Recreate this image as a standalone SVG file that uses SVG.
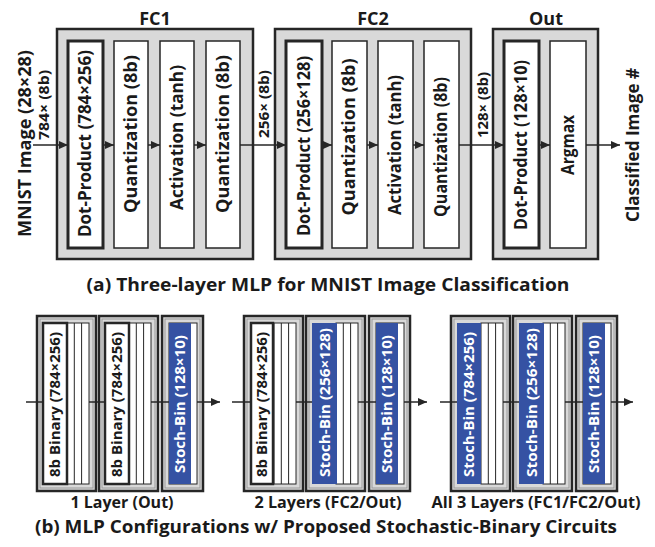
<svg xmlns="http://www.w3.org/2000/svg" width="655" height="547" viewBox="0 0 655 547">
<style>
text{font-family:"Open Sans","Noto Sans","Liberation Sans",sans-serif;font-weight:bold;fill:#1a1a1a}
.outer{fill:#d9d9d9;stroke:#262626;stroke-width:2.5}
.blk{fill:#fff;stroke:#262626;stroke-width:1.5}
.dp{fill:#fff;stroke:#262626;stroke-width:3}
.lbl{font-size:17px}
.sm{font-size:14px}
.ttl{font-size:18px}
.cap{font-size:18.5px}
.bo{fill:#d9d9d9;stroke:#262626;stroke-width:2.5}
.bi{fill:none;stroke:#9a9a9a;stroke-width:1}
.col{fill:#fff;stroke:#262626;stroke-width:1}
.wb{fill:#fff;stroke:#262626;stroke-width:2.5}
.blue{fill:#3552a3}
.bt{font-size:15px}
.bl{font-size:16px}
.wt{fill:#fff}
.cn{stroke:#262626;stroke-width:1.5;fill:none}
</style>
<defs>
<marker id="ah" markerWidth="9" markerHeight="8" refX="9" refY="4" orient="auto" markerUnits="userSpaceOnUse">
<path d="M0,0 L9,4 L0,8 Z" fill="#262626"/>
</marker>
</defs>

<!-- Part (a) -->
<text class="ttl" x="155" y="25" text-anchor="middle">FC1</text>
<text class="ttl" x="373" y="25" text-anchor="middle">FC2</text>
<text class="ttl" x="546" y="25" text-anchor="middle">Out</text>

<text class="ttl" transform="translate(31,143.5) rotate(-90)" text-anchor="middle" textLength="187" lengthAdjust="spacingAndGlyphs">MNIST Image (28×28)</text>
<text class="sm" transform="translate(49,105) rotate(-90)" text-anchor="middle" textLength="70" lengthAdjust="spacingAndGlyphs">784× (8b)</text>
<text class="sm" transform="translate(269,104) rotate(-90)" text-anchor="middle" textLength="68" lengthAdjust="spacingAndGlyphs">256× (8b)</text>
<text class="sm" transform="translate(488,105) rotate(-90)" text-anchor="middle" textLength="66" lengthAdjust="spacingAndGlyphs">128× (8b)</text>
<text class="ttl" transform="translate(639,145) rotate(-90)" text-anchor="middle" textLength="154" lengthAdjust="spacingAndGlyphs">Classified Image #</text>

<g id="fc1">
<rect class="outer" x="57" y="29" width="196" height="230"/>
<rect class="dp" x="68" y="41" width="35" height="207"/>
<rect class="blk" x="114" y="41" width="34" height="207"/>
<rect class="blk" x="160" y="41" width="34" height="207"/>
<rect class="blk" x="206" y="41" width="34" height="207"/>
<text class="lbl" transform="translate(85.5,143.5) rotate(-90)" dy=".35em" text-anchor="middle" textLength="187" lengthAdjust="spacingAndGlyphs">Dot-Product (784×256)</text>
<text class="lbl" transform="translate(131,134) rotate(-90)" dy=".35em" text-anchor="middle" textLength="158" lengthAdjust="spacingAndGlyphs">Quantization (8b)</text>
<text class="lbl" transform="translate(177,137.5) rotate(-90)" dy=".35em" text-anchor="middle" textLength="145" lengthAdjust="spacingAndGlyphs">Activation (tanh)</text>
<text class="lbl" transform="translate(223,134) rotate(-90)" dy=".35em" text-anchor="middle" textLength="158" lengthAdjust="spacingAndGlyphs">Quantization (8b)</text>
</g>

<g id="fc2">
<rect class="outer" x="275" y="29" width="196" height="230"/>
<rect class="dp" x="286" y="41" width="36" height="207"/>
<rect class="blk" x="332" y="41" width="35" height="207"/>
<rect class="blk" x="378" y="41" width="35" height="207"/>
<rect class="blk" x="424" y="41" width="35" height="207"/>
<text class="lbl" transform="translate(304,146) rotate(-90)" dy=".35em" text-anchor="middle" textLength="180" lengthAdjust="spacingAndGlyphs">Dot-Product (256×128)</text>
<text class="lbl" transform="translate(349.5,137) rotate(-90)" dy=".35em" text-anchor="middle" textLength="157" lengthAdjust="spacingAndGlyphs">Quantization (8b)</text>
<text class="lbl" transform="translate(395.5,145) rotate(-90)" dy=".35em" text-anchor="middle" textLength="140" lengthAdjust="spacingAndGlyphs">Activation (tanh)</text>
<text class="lbl" transform="translate(441.5,147) rotate(-90)" dy=".35em" text-anchor="middle" textLength="140" lengthAdjust="spacingAndGlyphs">Quantization (8b)</text>
</g>

<g id="out">
<rect class="outer" x="493" y="29" width="105" height="230"/>
<rect class="dp" x="504" y="41" width="35" height="207"/>
<rect class="blk" x="550" y="41" width="36" height="207"/>
<text class="lbl" transform="translate(521.5,145) rotate(-90)" dy=".35em" text-anchor="middle" textLength="170" lengthAdjust="spacingAndGlyphs">Dot-Product (128×10)</text>
<text class="lbl" transform="translate(568,145) rotate(-90)" dy=".35em" text-anchor="middle" textLength="60" lengthAdjust="spacingAndGlyphs">Argmax</text>
</g>

<g id="connectors-a">
<line class="cn" x1="33" y1="145" x2="68" y2="145" marker-end="url(#ah)"/>
<line class="cn" x1="103" y1="145" x2="114" y2="145" marker-end="url(#ah)"/>
<line class="cn" x1="148" y1="145" x2="160" y2="145" marker-end="url(#ah)"/>
<line class="cn" x1="194" y1="145" x2="206" y2="145" marker-end="url(#ah)"/>
<line class="cn" x1="240" y1="145" x2="286" y2="145" marker-end="url(#ah)"/>
<line class="cn" x1="322" y1="145" x2="332" y2="145" marker-end="url(#ah)"/>
<line class="cn" x1="367" y1="145" x2="378" y2="145" marker-end="url(#ah)"/>
<line class="cn" x1="413" y1="145" x2="424" y2="145" marker-end="url(#ah)"/>
<line class="cn" x1="459" y1="145" x2="504" y2="145" marker-end="url(#ah)"/>
<line class="cn" x1="539" y1="145" x2="550" y2="145" marker-end="url(#ah)"/>
<line class="cn" x1="586" y1="145" x2="620" y2="145" marker-end="url(#ah)"/>
</g>

<text class="cap" x="328" y="291" text-anchor="middle" textLength="483" lengthAdjust="spacingAndGlyphs">(a) Three-layer MLP for MNIST Image Classification</text>

<!-- Part (b) -->
<defs>
<g id="big">
<rect class="bo" x="0" y="316" width="59" height="175"/>
<rect class="bi" x="3" y="319" width="53" height="169"/>
<rect class="col" x="30" y="323" width="22" height="161"/>
<line class="col" x1="37.3" y1="323" x2="37.3" y2="484"/>
<line class="col" x1="44.6" y1="323" x2="44.6" y2="484"/>
</g>
<g id="small">
<rect class="bo" x="0" y="316" width="41" height="175"/>
<rect class="bi" x="3" y="319" width="35" height="169"/>
<rect class="col" x="7" y="323" width="28" height="161"/>
<rect class="blue" x="7" y="323" width="22" height="161"/>
</g>
</defs>

<g id="cfg1">
<use href="#big" x="37"/>
<rect class="wb" x="43" y="323" width="24" height="161"/>
<text class="bt" transform="translate(55,404.5) rotate(-90)" dy=".35em" text-anchor="middle" textLength="145" lengthAdjust="spacingAndGlyphs">8b Binary (784×256)</text>
<use href="#big" x="99"/>
<rect class="wb" x="105" y="323" width="24" height="161"/>
<text class="bt" transform="translate(117,404.5) rotate(-90)" dy=".35em" text-anchor="middle" textLength="145" lengthAdjust="spacingAndGlyphs">8b Binary (784×256)</text>
<use href="#small" x="162"/>
<text class="bt wt" transform="translate(180,404) rotate(-90)" dy=".35em" text-anchor="middle" textLength="138" lengthAdjust="spacingAndGlyphs">Stoch-Bin (128×10)</text>
<text class="bl" x="122" y="508" text-anchor="middle" textLength="103" lengthAdjust="spacingAndGlyphs">1 Layer (Out)</text>
</g>

<g id="cfg2">
<use href="#big" x="244"/>
<rect class="wb" x="251" y="323" width="22" height="161"/>
<text class="bt" transform="translate(262,404.5) rotate(-90)" dy=".35em" text-anchor="middle" textLength="145" lengthAdjust="spacingAndGlyphs">8b Binary (784×256)</text>
<use href="#big" x="306"/>
<rect class="blue" x="312" y="323" width="25" height="161"/>
<text class="bt wt" transform="translate(324.5,402.5) rotate(-90)" dy=".35em" text-anchor="middle" textLength="149" lengthAdjust="spacingAndGlyphs">Stoch-Bin (256×128)</text>
<use href="#small" x="369"/>
<text class="bt wt" transform="translate(387,404) rotate(-90)" dy=".35em" text-anchor="middle" textLength="138" lengthAdjust="spacingAndGlyphs">Stoch-Bin (128×10)</text>
<text class="bl" x="328" y="508" text-anchor="middle" textLength="147" lengthAdjust="spacingAndGlyphs">2 Layers (FC2/Out)</text>
</g>

<g id="cfg3">
<use href="#big" x="451"/>
<rect class="blue" x="457" y="323" width="24" height="161"/>
<text class="bt wt" transform="translate(469,404.5) rotate(-90)" dy=".35em" text-anchor="middle" textLength="145" lengthAdjust="spacingAndGlyphs">Stoch-Bin (784×256)</text>
<use href="#big" x="513"/>
<rect class="blue" x="519" y="323" width="25" height="161"/>
<text class="bt wt" transform="translate(531.5,402.5) rotate(-90)" dy=".35em" text-anchor="middle" textLength="149" lengthAdjust="spacingAndGlyphs">Stoch-Bin (256×128)</text>
<use href="#small" x="576"/>
<text class="bt wt" transform="translate(594,404) rotate(-90)" dy=".35em" text-anchor="middle" textLength="138" lengthAdjust="spacingAndGlyphs">Stoch-Bin (128×10)</text>
<text class="bl" x="536" y="508" text-anchor="middle" textLength="209" lengthAdjust="spacingAndGlyphs">All 3 Layers (FC1/FC2/Out)</text>
</g>

<g id="connectors-b">
<line class="cn" x1="26" y1="402" x2="43" y2="402"/>
<line class="cn" x1="89" y1="402" x2="105" y2="402"/>
<line class="cn" x1="151" y1="402" x2="169" y2="402"/>
<line class="cn" x1="197" y1="402" x2="220" y2="402" marker-end="url(#ah)"/>
<line class="cn" x1="232" y1="402" x2="251" y2="402"/>
<line class="cn" x1="296" y1="402" x2="312" y2="402"/>
<line class="cn" x1="358" y1="402" x2="376" y2="402"/>
<line class="cn" x1="404" y1="402" x2="427" y2="402" marker-end="url(#ah)"/>
<line class="cn" x1="440" y1="402" x2="457" y2="402"/>
<line class="cn" x1="503" y1="402" x2="519" y2="402"/>
<line class="cn" x1="565" y1="402" x2="583" y2="402"/>
<line class="cn" x1="611" y1="402" x2="633" y2="402" marker-end="url(#ah)"/>
</g>

<text class="cap" x="326" y="533" text-anchor="middle" textLength="582" lengthAdjust="spacingAndGlyphs">(b) MLP Configurations w/ Proposed Stochastic-Binary Circuits</text>
</svg>
